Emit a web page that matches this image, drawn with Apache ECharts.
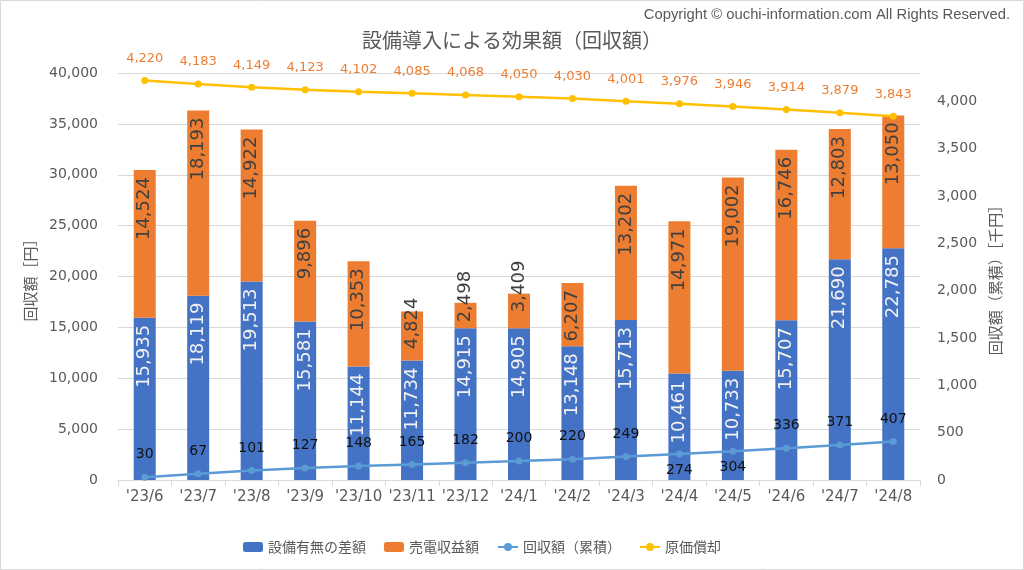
<!DOCTYPE html>
<html>
<head>
<meta charset="utf-8">
<script src="https://cdn.jsdelivr.net/npm/echarts@6/dist/echarts.min.js"></script>
<style>
html,body{margin:0;padding:0;background:#fff;}
#chart{width:1024px;height:570px;}
</style>
</head>
<body>
<div id="chart"></div>
<script>
// ---- data ----
const categories = ["'23/6","'23/7","'23/8","'23/9","'23/10","'23/11","'23/12","'24/1","'24/2","'24/3","'24/4","'24/5","'24/6","'24/7","'24/8"];
const diffValues = [15935, 18119, 19513, 15581, 11144, 11734, 14915, 14905, 13148, 15713, 10461, 10733, 15707, 21690, 22785];
const sellValues = [14524, 18193, 14922, 9896, 10353, 4824, 2498, 3409, 6207, 13202, 14971, 19002, 16746, 12803, 13050];
const cumulativeValues = [30, 67, 101, 127, 148, 165, 182, 200, 220, 249, 274, 304, 336, 371, 407];
const depreciationValues = [4220, 4183, 4149, 4123, 4102, 4085, 4068, 4050, 4030, 4001, 3976, 3946, 3914, 3879, 3843];
const seriesNames = ['設備有無の差額', '売電収益額', '回収額（累積）', '原価償却'];
const titleText = '設備導入による効果額（回収額）';
const copyrightText = 'Copyright © ouchi-information.com All Rights Reserved.';
const leftAxisName = '回収額［円］';
const rightAxisName = '回収額（累積）［千円］';

// ---- styling ----
const NUM_FONT = "'DejaVu Sans', 'Noto Sans CJK JP', sans-serif";
const JP_FONT = "'Noto Sans CJK JP', 'DejaVu Sans', sans-serif";
const GRAY = '#595959';
const fmt = v => Number(v).toLocaleString('en-US');

// label distances for short orange bars whose labels overflow
const sellLabelDistance = {5: -14, 6: -32, 7: -33};
// cumulative labels placed below the point
const cumulativeBelow = {10: true, 11: true};

const barLabelBase = {
  show: true, rotate: 90, position: 'insideTop', align: 'right', verticalAlign: 'middle',
  distance: 7, fontFamily: NUM_FONT, fontSize: 18, formatter: p => fmt(p.value)
};

const chart = echarts.init(document.getElementById('chart'), null, {renderer: 'canvas'});
chart.setOption({
  animation: false,
  backgroundColor: '#ffffff',
  title: [
    {text: titleText, left: 'center', top: 30, padding: 0,
     textStyle: {fontFamily: JP_FONT, fontSize: 20, fontWeight: 'normal', color: GRAY}},
    {text: copyrightText, right: 14, top: 7, padding: 0,
     textStyle: {fontFamily: "'Liberation Sans Narrow', 'Liberation Sans', sans-serif", fontSize: 14.8, fontWeight: 'normal', color: GRAY}}
  ],
  graphic: [{type: 'rect', shape: {x: 0.5, y: 0.5, width: 1023, height: 569}, style: {fill: 'none', stroke: '#d9d9d9', lineWidth: 1}, silent: true}],
  legend: {
    bottom: 11, left: 238, itemGap: 18, itemWidth: 20, itemHeight: 10,
    textStyle: {fontFamily: JP_FONT, fontSize: 14, color: GRAY},
    data: seriesNames
  },
  grid: {left: 118, right: 104, top: 73, bottom: 90, containLabel: false},
  xAxis: {
    type: 'category', data: categories,
    axisLine: {lineStyle: {color: '#d9d9d9'}},
    axisTick: {show: true, length: 6, lineStyle: {color: '#d9d9d9'}},
    axisLabel: {interval: 0, margin: 10, fontFamily: NUM_FONT, fontSize: 15, color: GRAY}
  },
  yAxis: [
    {type: 'value', min: 0, max: 40000, interval: 5000,
     name: leftAxisName, nameLocation: 'middle', nameRotate: 90, nameGap: 80,
     nameTextStyle: {fontFamily: JP_FONT, fontSize: 15, color: GRAY},
     axisLine: {show: false}, axisTick: {show: false},
     axisLabel: {margin: 20, fontFamily: NUM_FONT, fontSize: 14, color: GRAY, formatter: fmt},
     splitLine: {lineStyle: {color: '#d9d9d9'}}},
    {type: 'value', min: 0, max: 4300, interval: 500, position: 'right',
     name: rightAxisName, nameLocation: 'middle', nameRotate: 90, nameGap: 66,
     nameTextStyle: {fontFamily: JP_FONT, fontSize: 15, color: GRAY},
     axisLine: {show: false}, axisTick: {show: false},
     axisLabel: {margin: 17, showMaxLabel: false, fontFamily: NUM_FONT, fontSize: 14, color: GRAY, formatter: fmt},
     splitLine: {show: false}}
  ],
  series: [
    {name: seriesNames[0], type: 'bar', stack: 'total', yAxisIndex: 0, barWidth: 22,
     itemStyle: {color: '#4472C4'},
     label: Object.assign({}, barLabelBase, {color: '#F2F2F2'}),
     data: diffValues},
    {name: seriesNames[1], type: 'bar', stack: 'total', yAxisIndex: 0, barWidth: 22,
     itemStyle: {color: '#ED7D31'},
     label: Object.assign({}, barLabelBase, {color: '#404040'}),
     data: sellValues.map((v, i) => sellLabelDistance[i] !== undefined
        ? {value: v, label: {distance: sellLabelDistance[i]}} : v)},
    {name: seriesNames[2], type: 'line', yAxisIndex: 1, symbol: 'circle', symbolSize: 7,
     lineStyle: {color: '#5B9BD5', width: 2.5}, itemStyle: {color: '#5B9BD5'},
     label: {show: true, position: 'top', distance: 12, fontFamily: NUM_FONT, fontSize: 14, color: '#111111', formatter: p => fmt(p.value)},
     data: cumulativeValues.map((v, i) => cumulativeBelow[i]
        ? {value: v, label: {position: 'bottom', distance: 6}} : v),
     z: 5},
    {name: seriesNames[3], type: 'line', yAxisIndex: 1, symbol: 'circle', symbolSize: 7,
     lineStyle: {color: '#FFC000', width: 2.5}, itemStyle: {color: '#FFC000'},
     label: {show: true, position: 'top', distance: 12, fontFamily: NUM_FONT, fontSize: 13, color: '#ED7D31', formatter: p => fmt(p.value)},
     data: depreciationValues, z: 5}
  ]
});
</script>
</body>
</html>
